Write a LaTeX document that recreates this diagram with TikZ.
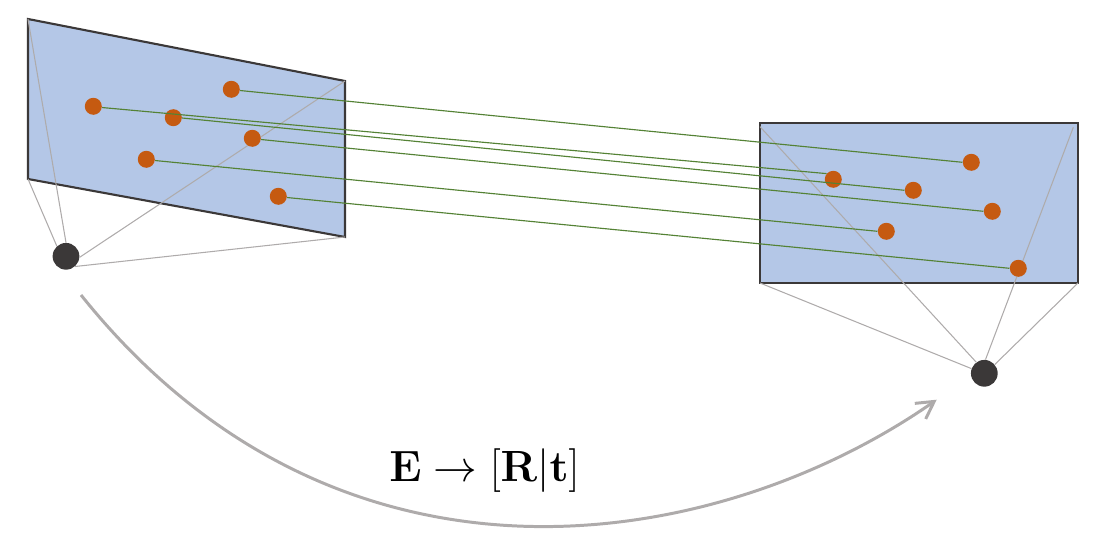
\documentclass[tikz,border=0pt]{standalone}
\usepackage{amsmath}
\usepackage{xcolor}
\usetikzlibrary{arrows.meta, positioning}
\definecolor{planeblue}{RGB}{180, 199, 231}
\definecolor{framegray}{RGB}{59, 56, 56}
\definecolor{rayorange}{RGB}{197, 90, 17}
\definecolor{matchgreen}{RGB}{84, 130, 53}
\definecolor{raygray}{RGB}{174, 171, 171}

\begin{document}
\begin{tikzpicture}[
    plane/.style={draw=framegray, fill=planeblue, line width=1.2pt, line join=miter},
    feature/.style={circle, fill=rayorange, minimum size=0.34cm, inner sep=0pt},
    camera/.style={circle, fill=framegray, minimum size=0.535cm, inner sep=0pt},
    viewray/.style={raygray, line width=0.6pt},
    match/.style={matchgreen, line width=0.65pt}
]
\useasboundingbox (0, 0) rectangle (22.16, 10.68);

% Image planes
\coordinate (la) at (0.56, 10.30);
\coordinate (lb) at (6.90, 9.06);
\coordinate (lc) at (6.90, 5.94);
\coordinate (ld) at (0.56, 7.10);
\coordinate (ra) at (15.20, 8.22);
\coordinate (rb) at (21.56, 8.22);
\coordinate (rc) at (21.56, 5.02);
\coordinate (rd) at (15.20, 5.02);
\draw[plane] (la) -- (lb) -- (lc) -- (ld) -- cycle;
\draw[plane] (ra) -- (rb) -- (rc) -- (rd) -- cycle;

% Cameras
\node[camera] (camleft) at (1.32, 5.554) {};
\node[camera] (camright) at (19.686, 3.214) {};

% View rays
\coordinate (raytopleft) at (15.20, 8.146);
\coordinate (raytopright) at (21.466, 8.134);
\foreach \c/\a in {la/90, lb/-4, lc/-48, ld/132} {
    \draw[viewray] (camleft.\a) -- (\c);
}
\foreach \c/\a in {raytopleft/126, raytopright/85, rc/40, rd/160} {
    \draw[viewray] (camright.\a) -- (\c);
}

% Matches
\foreach \n/\x/\y/\u/\v in {1/1.866/8.554/16.666/7.094, 2/3.466/8.326/18.266/6.874, 3/4.626/8.894/19.426/7.434, 4/5.046/7.914/19.846/6.454, 5/2.926/7.494/17.726/6.054, 6/5.566/6.754/20.366/5.314} {
    \node[feature] (pl\n) at (\x, \y) {};
    \node[feature] (pr\n) at (\u, \v) {};
}
\foreach \n/\a/\b in {1/-8/140, 2/-2/180, 3/-8/180, 4/-8/180, 5/-8/180, 6/-8/180} {
    \draw[match] (pl\n.\a) -- (pr\n.\b);
}

% Relative pose
\coordinate (posestart) at (1.62, 4.78);
\coordinate (poseend) at (18.734, 2.686);
\draw[-{Straight Barb[length=0.34cm, width=0.38cm]}, raygray, line width=1.7pt] (posestart) .. controls (6.82, -1.72) and (14.40, -0.34) .. (poseend);
\node (poselabel) at (9.69, 1.274) {\fontsize{25.9}{30}\selectfont $\mathbf{E} \rightarrow [\mathbf{R}|\mathbf{t}]$};

\end{tikzpicture}
\end{document}
